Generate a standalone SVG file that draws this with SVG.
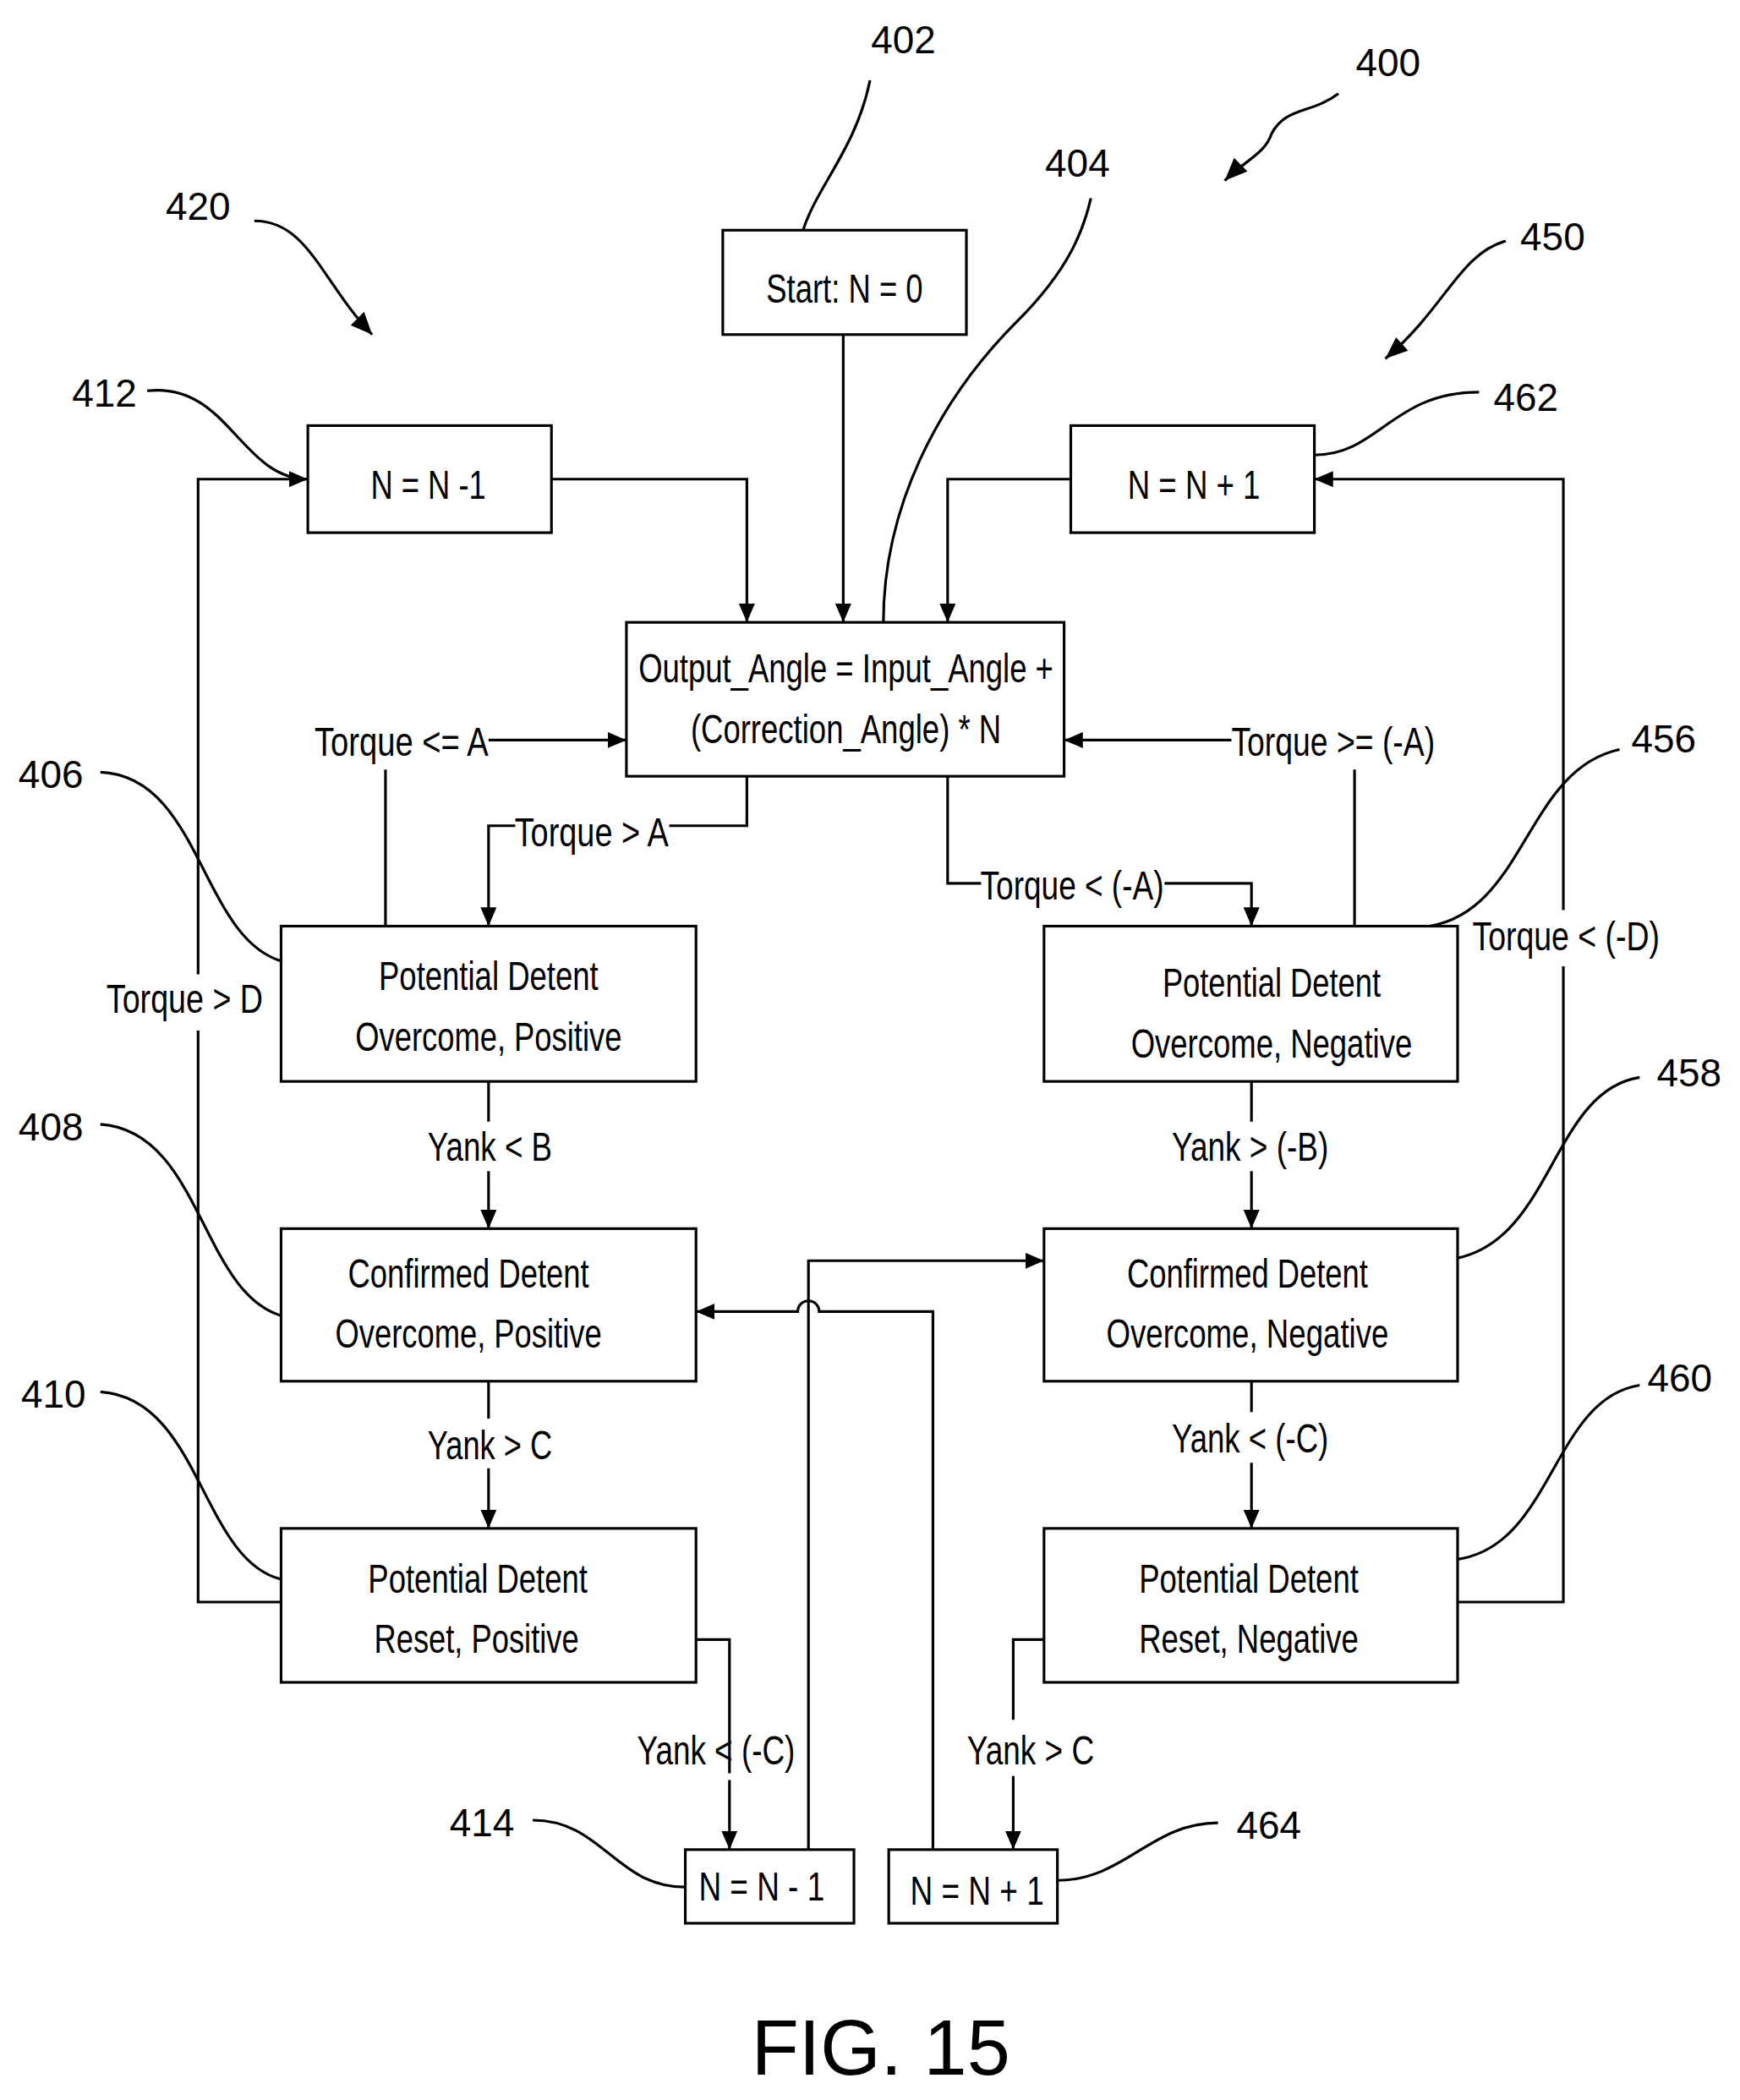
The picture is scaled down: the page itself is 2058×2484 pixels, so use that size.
<svg xmlns="http://www.w3.org/2000/svg" width="2058" height="2484" viewBox="0 0 2058 2484">
<style>
.b{fill:#fff;stroke:#000;stroke-width:2}
.c{fill:none;stroke:#000;stroke-width:2}
.t{font-family:"Liberation Sans",Arial,sans-serif;font-size:30px;fill:#000;text-anchor:middle}
.r{font-family:"Liberation Sans",Arial,sans-serif;font-size:29px;fill:#000;text-anchor:middle}
</style>
<defs>
<marker id="a" markerUnits="userSpaceOnUse" markerWidth="14" markerHeight="12" refX="14" refY="6" orient="auto"><path d="M0,0 L14,6 L0,12 Z" fill="#000"/></marker>
</defs>
<rect width="2058" height="2484" fill="#fff"/>
<g transform="scale(1.5831)">
<g id="connectors" class="c" marker-end="url(#a)">
<path d="M630,250 V465"/>
<path d="M412,358 H558 V465"/>
<path d="M800,358 H708 V465"/>
<path d="M288,692 V575 M288,553 V553 M365,553 H468"/>
<path d="M558,580 V617 H500 M385,617 H365 V692"/>
<path d="M708,580 V660 H733 M870,660 H935 V692"/>
<path d="M1012,692 V575 M920,553 H795"/>
<path d="M210,1197 H148 V770 M148,728 V358 H230"/>
<path d="M1089,1197 H1168 V722 M1168,680 V358 H982"/>
<path d="M365,808 V838 M365,875 V918"/>
<path d="M365,1032 V1060 M365,1097 V1142"/>
<path d="M935,808 V838 M935,875 V918"/>
<path d="M935,1032 V1055 M935,1093 V1142"/>
<path d="M520,1225 H545 V1325 M545,1330 V1382"/>
<path d="M780,1225 H757 V1285 M757,1327 V1382"/>
<path d="M604,1382 V942 H780"/>
<path d="M697,1382 V980 H612 A8,8 0 0 0 596,980 H520"/>
</g>
<g class="c">
<path d="M600,172 C610,140 640,110 650,60"/>
<path d="M660,465 C660,380 700,300 760,240 C800,200 810,170 815,148"/>
<path d="M1000,70 C980,85 960,80 950,100 C945,115 930,120 915,135"/>
<path d="M190,165 C230,165 240,210 278,250"/>
<path d="M1125,180 C1090,190 1080,230 1035,268"/>
<path d="M110,292 C170,285 180,358 230,358"/>
<path d="M1105,293 C1040,293 1030,340 982,340"/>
<path d="M75,577 C150,580 150,700 210,718"/>
<path d="M1210,560 C1140,575 1140,680 1068,692"/>
<path d="M75,840 C150,845 150,965 210,983"/>
<path d="M1225,805 C1160,815 1160,925 1089,940"/>
<path d="M75,1040 C150,1045 150,1165 210,1180"/>
<path d="M1225,1035 C1160,1045 1160,1155 1089,1165"/>
<path d="M398,1360 C450,1360 460,1410 512,1410"/>
<path d="M910,1362 C860,1362 840,1405 790,1405"/>
</g>
<g fill="#000">
<path d="M915,135 L922,118 L932,128 Z"/>
<path d="M278,250 L262,243 L272,233 Z"/>
<path d="M1035,268 L1043,252 L1052,262 Z"/>
</g>
<g id="n402"><rect class="b" x="540" y="172" width="182" height="78"/><text class="t" x="631" y="226" textLength="117" lengthAdjust="spacingAndGlyphs">Start: N = 0</text></g>
<g id="n412"><rect class="b" x="230" y="318" width="182" height="80"/><text class="t" x="320" y="373" textLength="86" lengthAdjust="spacingAndGlyphs">N = N -1</text></g>
<g id="n462"><rect class="b" x="800" y="318" width="182" height="80"/><text class="t" x="892" y="373" textLength="99" lengthAdjust="spacingAndGlyphs">N = N + 1</text></g>
<g id="n404"><rect class="b" x="468" y="465" width="327" height="115"/><text class="t" x="632" y="510" textLength="310" lengthAdjust="spacingAndGlyphs">Output_Angle = Input_Angle +</text><text class="t" x="632" y="555" textLength="232" lengthAdjust="spacingAndGlyphs">(Correction_Angle) * N</text></g>
<g id="n406"><rect class="b" x="210" y="692" width="310" height="116"/><text class="t" x="365" y="740" textLength="164" lengthAdjust="spacingAndGlyphs">Potential Detent</text><text class="t" x="365" y="785" textLength="199" lengthAdjust="spacingAndGlyphs">Overcome, Positive</text></g>
<g id="n456"><rect class="b" x="780" y="692" width="309" height="116"/><text class="t" x="950" y="745" textLength="163" lengthAdjust="spacingAndGlyphs">Potential Detent</text><text class="t" x="950" y="790" textLength="210" lengthAdjust="spacingAndGlyphs">Overcome, Negative</text></g>
<g id="n408"><rect class="b" x="210" y="918" width="310" height="114"/><text class="t" x="350" y="962" textLength="180" lengthAdjust="spacingAndGlyphs">Confirmed Detent</text><text class="t" x="350" y="1007" textLength="199" lengthAdjust="spacingAndGlyphs">Overcome, Positive</text></g>
<g id="n458"><rect class="b" x="780" y="918" width="309" height="114"/><text class="t" x="932" y="962" textLength="180" lengthAdjust="spacingAndGlyphs">Confirmed Detent</text><text class="t" x="932" y="1007" textLength="211" lengthAdjust="spacingAndGlyphs">Overcome, Negative</text></g>
<g id="n410"><rect class="b" x="210" y="1142" width="310" height="115"/><text class="t" x="357" y="1190" textLength="164" lengthAdjust="spacingAndGlyphs">Potential Detent</text><text class="t" x="356" y="1235" textLength="153" lengthAdjust="spacingAndGlyphs">Reset, Positive</text></g>
<g id="n460"><rect class="b" x="780" y="1142" width="309" height="115"/><text class="t" x="933" y="1190" textLength="164" lengthAdjust="spacingAndGlyphs">Potential Detent</text><text class="t" x="933" y="1235" textLength="164" lengthAdjust="spacingAndGlyphs">Reset, Negative</text></g>
<g id="n414"><rect class="b" x="512" y="1382" width="126" height="55"/><text class="t" x="569" y="1420" textLength="94" lengthAdjust="spacingAndGlyphs">N = N - 1</text></g>
<g id="n464"><rect class="b" x="664" y="1382" width="126" height="55"/><text class="t" x="730" y="1423" textLength="100" lengthAdjust="spacingAndGlyphs">N = N + 1</text></g>
<g id="labels">
<text class="t" x="300" y="565" textLength="130" lengthAdjust="spacingAndGlyphs">Torque &lt;= A</text>
<text class="t" x="442" y="632" textLength="115" lengthAdjust="spacingAndGlyphs">Torque &gt; A</text>
<text class="t" x="801" y="672" textLength="137" lengthAdjust="spacingAndGlyphs">Torque &lt; (-A)</text>
<text class="t" x="996" y="565" textLength="152" lengthAdjust="spacingAndGlyphs">Torque &gt;= (-A)</text>
<text class="t" x="138" y="757" textLength="117" lengthAdjust="spacingAndGlyphs">Torque &gt; D</text>
<text class="t" x="1170" y="710" textLength="140" lengthAdjust="spacingAndGlyphs">Torque &lt; (-D)</text>
<text class="t" x="366" y="867" textLength="93" lengthAdjust="spacingAndGlyphs">Yank &lt; B</text>
<text class="t" x="366" y="1090" textLength="93" lengthAdjust="spacingAndGlyphs">Yank &gt; C</text>
<text class="t" x="934" y="867" textLength="117" lengthAdjust="spacingAndGlyphs">Yank &gt; (-B)</text>
<text class="t" x="934" y="1085" textLength="117" lengthAdjust="spacingAndGlyphs">Yank &lt; (-C)</text>
<text class="t" x="535" y="1318" textLength="118" lengthAdjust="spacingAndGlyphs">Yank &lt; (-C)</text>
<text class="t" x="770" y="1318" textLength="95" lengthAdjust="spacingAndGlyphs">Yank &gt; C</text>
</g>
<g id="refs">
<text class="r" x="675" y="40">402</text>
<text class="r" x="805" y="132">404</text>
<text class="r" x="1037" y="57">400</text>
<text class="r" x="148" y="164">420</text>
<text class="r" x="1160" y="187">450</text>
<text class="r" x="78" y="304">412</text>
<text class="r" x="1140" y="307">462</text>
<text class="r" x="38" y="589">406</text>
<text class="r" x="1243" y="562">456</text>
<text class="r" x="38" y="852">408</text>
<text class="r" x="1262" y="812">458</text>
<text class="r" x="40" y="1052">410</text>
<text class="r" x="1255" y="1040">460</text>
<text class="r" x="360" y="1372">414</text>
<text class="r" x="948" y="1374">464</text>
<text class="r" x="658" y="1550" style="font-size:58px">FIG. 15</text>
</g>
</g>
</svg>
